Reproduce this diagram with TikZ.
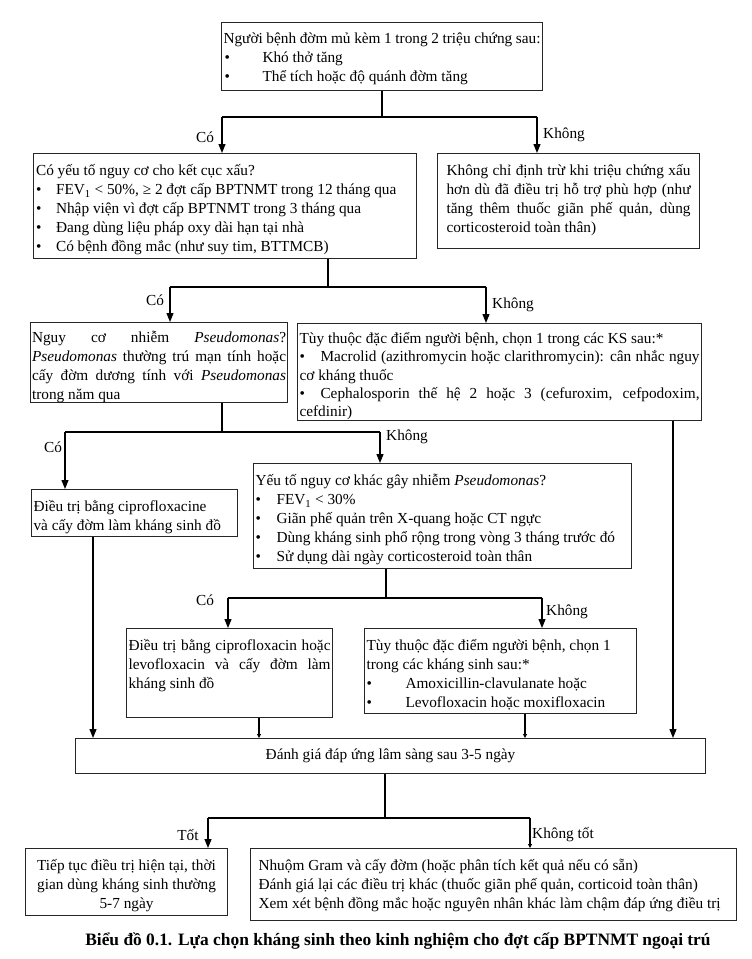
\documentclass[tikz,border=0pt]{standalone}
\usepackage{fontspec}
\setmainfont{Liberation Serif}
\usetikzlibrary{arrows.meta,calc}
\newcommand{\myfs}{\fontsize{15.3}{19}\selectfont}
\newcommand{\bxc}[3]{\parbox[c][#2pt][t]{#1pt}{\myfs\rule{0pt}{16.3pt}#3}}
\newcommand{\bul}[1]{\makebox[#1pt][l]{•}}
\begin{document}
\begin{tikzpicture}[x=1pt,y=-1pt,
  box/.style={draw=black!85, line width=1.1pt, anchor=north west, inner ysep=6pt, inner xsep=2pt},
  con/.style={line width=1.2pt},
  arr/.style={con, -{Triangle[length=9pt,width=7pt]}},
  sarr/.style={con, -{Triangle[length=4pt,width=4pt]}},
  lab/.style={font=\myfs, inner sep=1pt}]
\useasboundingbox (0,0) rectangle (752,959);

% boxes
\node[box, inner ysep=5pt] (b1) at (221,22) {\bxc{317}{58}{Người bệnh đờm mủ kèm 1 trong 2 triệu chứng sau:\\
\makebox[39pt][l]{\hspace{1pt}•}Khó thở tăng\\
\makebox[39pt][l]{\hspace{1pt}•}Thể tích hoặc độ quánh đờm tăng}};

\node[box, inner xsep=2.5pt] (b2) at (33,153) {\bxc{378}{93}{Có yếu tố nguy cơ cho kết cục xấu?\\
\bul{20}FEV\textsubscript{1} < 50\%, ≥ 2 đợt cấp BPTNMT trong 12 tháng qua\\
\bul{20}Nhập viện vì đợt cấp BPTNMT trong 3 tháng qua\\
\bul{20}Đang dùng liệu pháp oxy dài hạn tại nhà\\
\bul{20}Có bệnh đồng mắc (như suy tim, BTTMCB)}};

\node[box, inner xsep=9pt] (b3) at (437,153) {\bxc{244}{83}{Không chỉ định trừ khi triệu chứng xấu\linebreak
hơn dù đã điều trị hỗ trợ phù hợp (như\linebreak
tăng thêm thuốc giãn phế quản, dùng\linebreak
corticosteroid toàn thân)}};

\node[box, inner xsep=1.5pt, inner ysep=4pt] (b4) at (30,322) {\bxc{254}{72}{Nguy cơ nhiễm \textit{Pseudomonas}?\linebreak
\textit{Pseudomonas} thường trú mạn tính hoặc\linebreak
cấy đờm dương tính với \textit{Pseudomonas}\linebreak
trong năm qua}};

\node[box, inner ysep=5pt] (b5) at (297,323) {\parbox[c][87pt][t]{400pt}{\fontsize{15.3}{18.3}\selectfont\rule{0pt}{15pt}Tùy thuộc đặc điểm người bệnh, chọn 1 trong các KS sau:*\par
\bul{21}Macrolid (azithromycin hoặc clarithromycin): cân nhắc nguy\linebreak
cơ kháng thuốc\par
\bul{21}Cephalosporin thế hệ 2 hoặc 3 (cefuroxim, cefpodoxim,\linebreak
cefdinir)}};

\node[box] (b6) at (31,489) {\bxc{202}{35}{Điều trị bằng ciprofloxacine\\
và cấy đờm làm kháng sinh đồ}};

\node[box] (b7) at (253,463) {\bxc{374}{93}{Yếu tố nguy cơ khác gây nhiễm \textit{Pseudomonas}?\\
\bul{21}FEV\textsubscript{1} < 30\%\\
\bul{21}Giãn phế quản trên X-quang hoặc CT ngực\\
\bul{21}Dùng kháng sinh phổ rộng trong vòng 3 tháng trước đó\\
\bul{21}Sử dụng dài ngày corticosteroid toàn thân}};

\node[box] (b8) at (126,628) {\bxc{202}{77}{Điều trị bằng ciprofloxacin hoặc\linebreak
levofloxacin và cấy đờm làm\linebreak
kháng sinh đồ}};

\node[box] (b9) at (364,628) {\bxc{268}{73}{Tùy thuộc đặc điểm người bệnh, chọn 1\\
trong các kháng sinh sau:*\\
\bul{39}Amoxicillin-clavulanate hoặc\\
\bul{39}Levofloxacin hoặc moxifloxacin}};

\node[box, inner sep=0pt, minimum width=630pt, minimum height=35pt, font=\myfs] (ev) at (75,738) {Đánh giá đáp ứng lâm sàng sau 3-5 ngày};

\node[box] (b10) at (25,848) {\bxc{198}{55}{\centering Tiếp tục điều trị hiện tại, thời\\
gian dùng kháng sinh thường\\
5-7 ngày}};

\node[box, inner xsep=8pt] (b11) at (250,848) {\bxc{470}{60}{Nhuộm Gram và cấy đờm (hoặc phân tích kết quả nếu có sẵn)\\
Đánh giá lại các điều trị khác (thuốc giãn phế quản, corticoid toàn thân)\\
Xem xét bệnh đồng mắc hoặc nguyên nhân khác làm chậm đáp ứng điều trị}};

\node[font=\fontsize{17.4}{20}\selectfont\bfseries, inner sep=0pt] (cap) at (398,941) {Biểu đồ 0.1. Lựa chọn kháng sinh theo kinh nghiệm cho đợt cấp BPTNMT ngoại trú};

% junction coordinates
\coordinate (j1l) at (222,117); \coordinate (j1r) at (537,117);
\coordinate (j2) at (328,287); \coordinate (j2l) at (170,287); \coordinate (j2r) at (486,287);
\coordinate (j3) at (222,432); \coordinate (j3l) at (65,432); \coordinate (j3r) at (380,432);
\coordinate (j4) at (386,598); \coordinate (j4l) at (228,598); \coordinate (j4r) at (542,598);
\coordinate (s5) at (673,0); \coordinate (s6) at (93,0); \coordinate (s8) at (259,0); \coordinate (s9) at (525,0);
\coordinate (j5) at (385,818); \coordinate (j5l) at (208,818); \coordinate (j5r) at (530,818);

% connectors
\draw[con] (b1.south) -- (b1.south |- j1l);
\draw[con] (j1l) -- (j1r);
\draw[arr] (j1l) -- (j1l |- b2.north);
\draw[arr] (j1r) -- (j1r |- b3.north);

\draw[con] (j2 |- b2.south) -- (j2);
\draw[con] (j2l) -- (j2r);
\draw[arr] (j2l) -- (j2l |- b4.north);
\draw[arr] (j2r) -- (j2r |- b5.north);

\draw[con] (j3 |- b4.south) -- (j3);
\draw[con] (j3l) -- (j3r);
\draw[arr] (j3l) -- (j3l |- b6.north);
\draw[arr] (j3r) -- (j3r |- b7.north);

\draw[con] (j4 |- b7.south) -- (j4);
\draw[con] (j4l) -- (j4r);
\draw[arr] (j4l) -- (j4l |- b8.north);
\draw[arr] (j4r) -- (j4r |- b9.north);

\draw[arr] (s5 |- b5.south) -- (s5 |- ev.north);
\draw[arr] (s6 |- b6.south) -- (s6 |- ev.north);
\draw[sarr] (s8 |- b8.south) -- (s8 |- ev.north);
\draw[sarr] (s9 |- b9.south) -- (s9 |- ev.north);

\draw[con] (j5 |- ev.south) -- (j5);
\draw[con] (j5l) -- (j5r);
\draw[arr] (j5l) -- (j5l |- b10.north);
\draw[sarr] (j5r) -- (j5r |- b11.north);

% labels
\node[lab] (l1) at (205,137) {Có};
\node[lab, anchor=west] (l2) at (542,135) {Không};
\node[lab] (l3) at (155,300) {Có};
\node[lab, anchor=west] (l4) at (491,305) {Không};
\node[lab] (l5) at (53,447) {Có};
\node[lab, anchor=west] (l6) at (385,437) {Không};
\node[lab] (l7) at (205,600) {Có};
\node[lab, anchor=west] (l8) at (545,612) {Không};
\node[lab] (l9) at (188,835) {Tốt};
\node[lab, anchor=west] (l10) at (531,835) {Không tốt};
\end{tikzpicture}
\end{document}
